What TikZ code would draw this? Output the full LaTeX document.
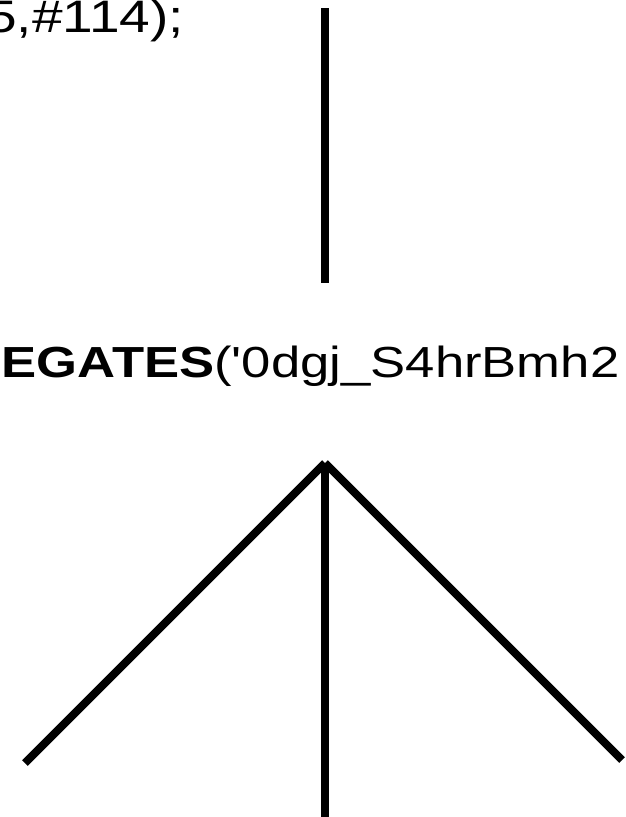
\documentclass[tikz,border=0pt]{standalone}
\usepackage{fontspec}
\setmainfont{Liberation Sans}
\usepackage{tikz}
\usetikzlibrary{positioning}

\begin{document}
\begin{tikzpicture}[x=1pt,y=-1pt,line width=8pt,
  lbl/.style={inner sep=0pt,xscale=1.21,font=\fontsize{43.5}{50}\selectfont}]
\useasboundingbox (0,0) rectangle (625,817);
\clip (0,0) rectangle (625,817);
\node[lbl,anchor=base east,font=\fontsize{45.5}{50}\selectfont] (prev) at (189,32) {5,\#114);};
\node[lbl,anchor=base west] (agg) at (-3,377) {\textbf{EGATES}(\textquotesingle0dgj\_S4hrBmh2};
\coordinate (up) at (325,8);
\coordinate (upend) at (325,283);
\coordinate (hub) at (325,463);
\coordinate (kidl) at (25,763);
\coordinate (kidm) at (325,830);
\coordinate (kidr) at (622,760);
\draw (up) -- (upend);
\draw (hub) -- (kidl);
\draw (hub) -- (kidm);
\draw (hub) -- (kidr);
\end{tikzpicture}
\end{document}
